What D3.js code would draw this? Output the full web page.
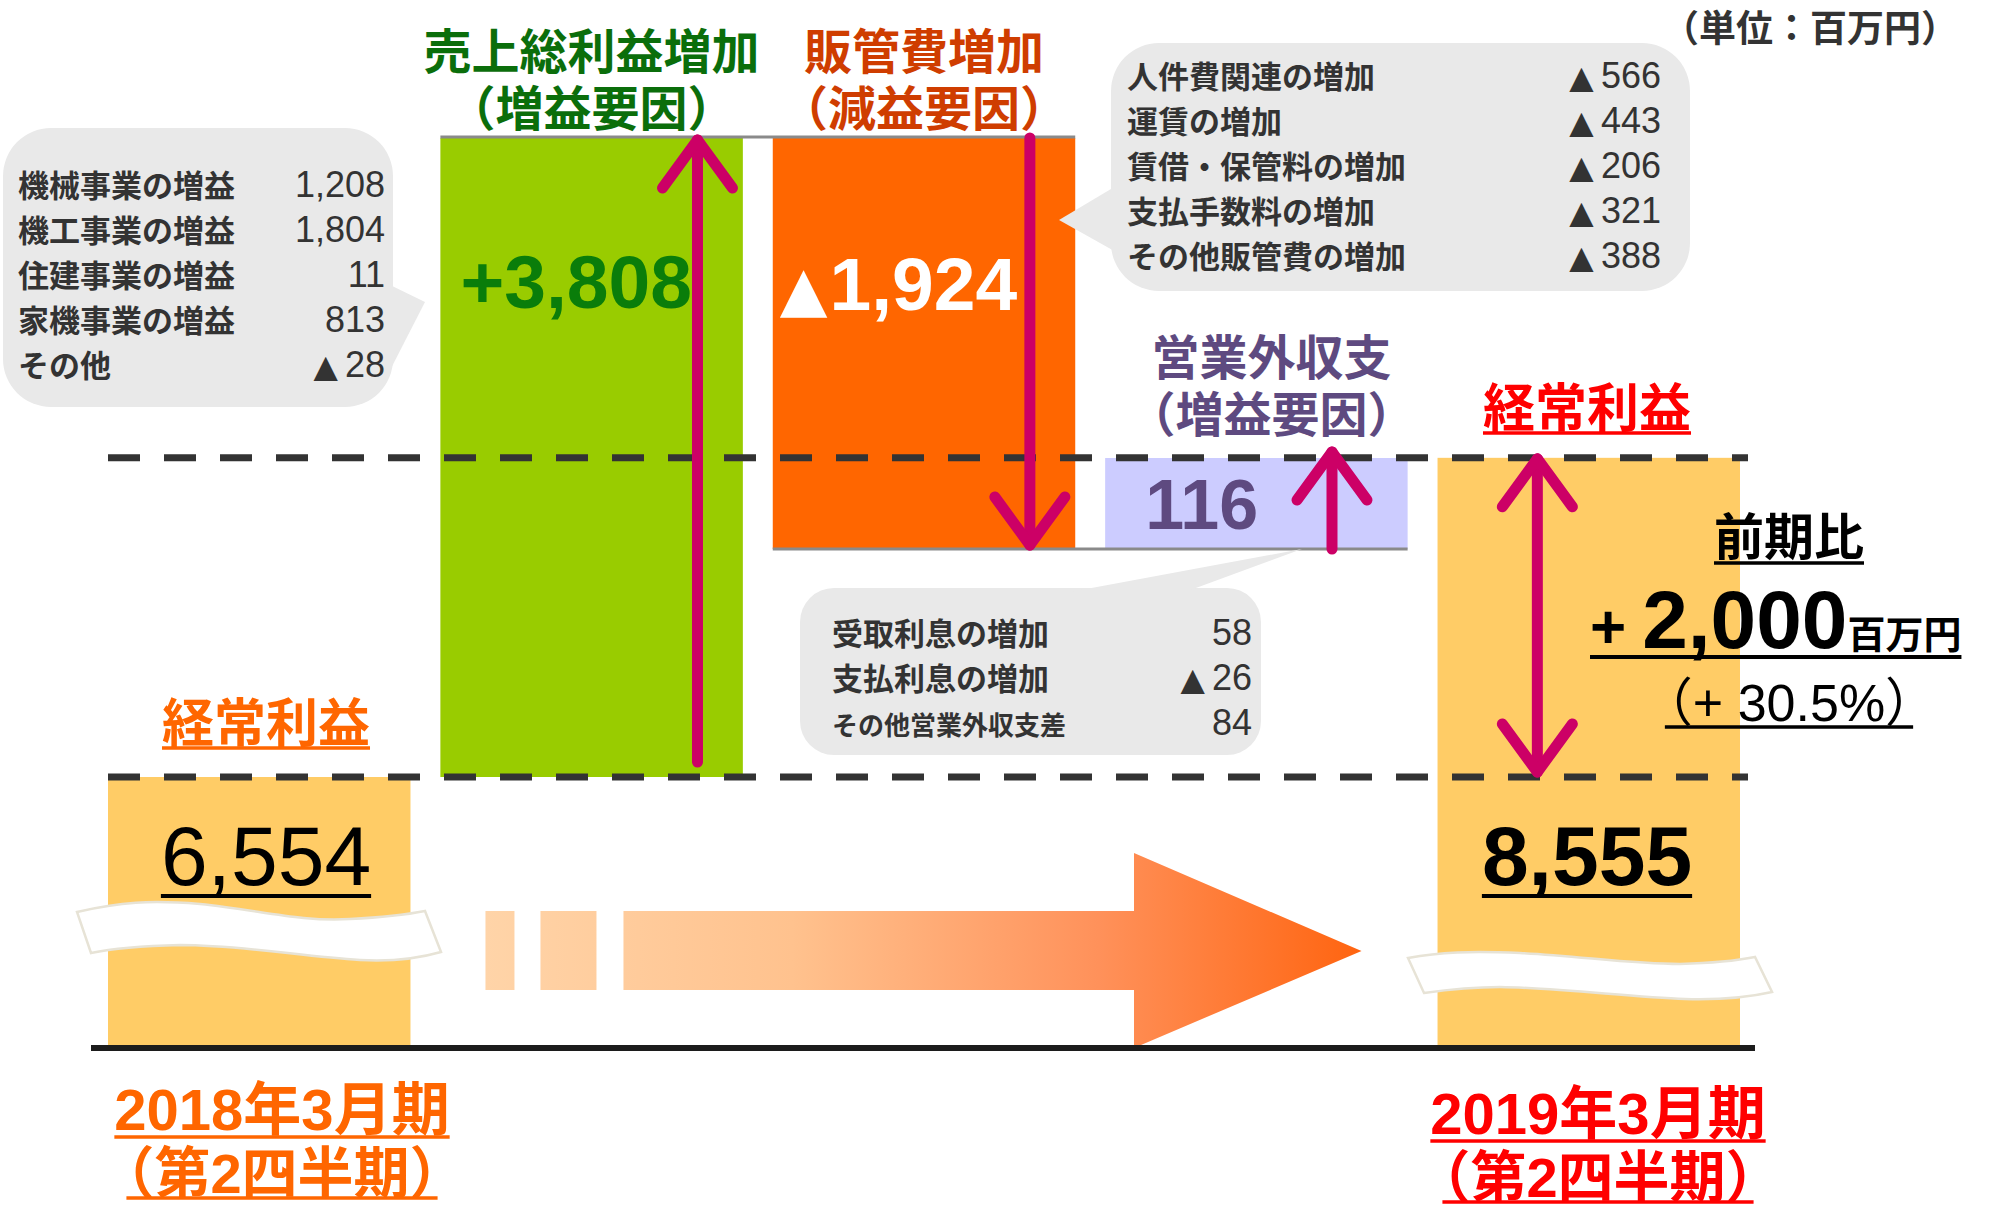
<!DOCTYPE html>
<html>
<head>
<meta charset="utf-8">
<script src="https://cdn.jsdelivr.net/npm/d3@7"></script>
<style>
  body { margin: 0; background: #fff; }
  svg { display: block; }
</style>
</head>
<body>
<svg id="chart"></svg>
<script>
// ---- data (百万円) ----
const steps = ["2018年3月期", "売上総利益増加", "販管費増加", "営業外収支", "2019年3月期"];
const startValue = 6554;
const endValue = 8555;
const stepValues = [3808, -1924, 116];
const stepSubtitles = ["（増益要因）", "（減益要因）", "（増益要因）"];

const grossLabels = ["機械事業の増益", "機工事業の増益", "住建事業の増益", "家機事業の増益", "その他"];
const grossValues = [1208, 1804, 11, 813, -28];

const sgaLabels = ["人件費関連の増加", "運賃の増加", "賃借・保管料の増加", "支払手数料の増加", "その他販管費の増加"];
const sgaValues = [-566, -443, -206, -321, -388];

const nonOpLabels = ["受取利息の増加", "支払利息の増加", "その他営業外収支差"];
const nonOpValues = [58, -26, 84];

const periodLabels = ["2018年3月期", "2019年3月期"];
const quarterLabel = "（第2四半期）";
const profitLabel = "経常利益";
const yoyValue = 2000;
const yoyPercent = 30.5;
const unitLabel = "（単位：百万円）";

// ---- setup ----
const width = 2011, height = 1208;
const FONT = "'Liberation Sans', 'Noto Sans CJK JP', sans-serif";
const MAGENTA = "#cc0066";

const svg = d3.select("#chart")
  .attr("width", width)
  .attr("height", height)
  .style("font-family", FONT);

// running levels of the waterfall
const levels = [startValue];
stepValues.forEach(v => levels.push(levels[levels.length - 1] + v));

// bands for the five columns
const x = d3.scaleBand()
  .domain(steps)
  .range([108, 1740])
  .paddingInner(0.09);
const bw = x.bandwidth();

// broken (non proportional) axis: piecewise scale through each level
const yDomain = d3.sort([0, ...levels]);
const y = d3.scaleLinear()
  .domain(yDomain)
  .range([1048, 777, 549, 458, 138]);

const fmt = d3.format(",");

// ---- bars ----
const barColors = ["#ffcc66", "#99cc00", "#ff6600", "#ccccff", "#ffcc66"];
const bars = [
  { name: steps[0], y0: 0, y1: startValue },
  ...stepValues.map((v, i) => ({ name: steps[i + 1], y0: levels[i], y1: levels[i + 1] })),
  { name: steps[4], y0: 0, y1: endValue }
];

svg.append("g").selectAll("rect")
  .data(bars)
  .join("rect")
  .attr("x", d => x(d.name))
  .attr("width", bw)
  .attr("y", d => y(Math.max(d.y0, d.y1)))
  .attr("height", d => Math.abs(y(d.y0) - y(d.y1)))
  .attr("fill", (d, i) => barColors[i]);

// thin grey connectors
svg.append("line")
  .attr("x1", x(steps[1])).attr("x2", x(steps[2]) + bw)
  .attr("y1", y(levels[1]) - 1).attr("y2", y(levels[1]) - 1)
  .attr("stroke", "#8a8a8a").attr("stroke-width", 3);
svg.append("line")
  .attr("x1", x(steps[2])).attr("x2", x(steps[3]) + bw)
  .attr("y1", y(levels[2])).attr("y2", y(levels[2]))
  .attr("stroke", "#8a8a8a").attr("stroke-width", 3);

// ---- break waves ----
const waves = [
  "M77,912 C120,902 150,900 200,904 C260,910 300,922 350,919 C390,917 410,914 425,911 L441,952 C420,958 395,962 360,960 C300,956 240,945 180,945 C140,946 110,949 91,953 Z",
  "M1408,958 C1440,952 1470,951 1520,953 C1580,956 1630,964 1680,964 C1715,963 1740,960 1755,957 L1772,992 C1750,997 1720,1000 1685,999 C1630,997 1560,988 1500,987 C1470,987 1445,990 1424,993 Z"
];
svg.append("g").selectAll("path")
  .data(waves)
  .join("path")
  .attr("d", d => d)
  .attr("fill", "#fff")
  .attr("stroke", "#e7e3d6")
  .attr("stroke-width", 2.5);

// ---- big progress arrow ----
const grad = svg.append("defs").append("linearGradient")
  .attr("id", "arrowGrad")
  .attr("gradientUnits", "userSpaceOnUse")
  .attr("x1", 485).attr("x2", 1362).attr("y1", 0).attr("y2", 0);
grad.append("stop").attr("offset", 0).attr("stop-color", "#ffd4a8");
grad.append("stop").attr("offset", 0.35).attr("stop-color", "#ffc28e");
grad.append("stop").attr("offset", 0.7).attr("stop-color", "#ff915a");
grad.append("stop").attr("offset", 1).attr("stop-color", "#ff6410");

const aL = x(steps[0]) + bw + 75;
const aR = x(steps[4]) - 76;
const arrowG = svg.append("g").attr("fill", "url(#arrowGrad)");
arrowG.append("rect").attr("x", aL).attr("y", 911).attr("width", 29).attr("height", 79);
arrowG.append("rect").attr("x", aL + 55).attr("y", 911).attr("width", 56).attr("height", 79);
arrowG.append("path")
  .attr("d", `M${aL + 138},911 L1134,911 L1134,853 L${aR},951 L1134,1048 L1134,990 L${aL + 138},990 Z`);

// ---- baseline ----
svg.append("line")
  .attr("x1", 91).attr("x2", 1755)
  .attr("y1", y(0)).attr("y2", y(0))
  .attr("stroke", "#1c1c1c").attr("stroke-width", 6);

// ---- dashed reference lines ----
[startValue, endValue].forEach(v => {
  svg.append("line")
    .attr("x1", 108).attr("x2", 1748)
    .attr("y1", y(v)).attr("y2", y(v))
    .attr("stroke", "#333").attr("stroke-width", 7)
    .attr("stroke-dasharray", "32,24");
});

// ---- magenta arrows ----
function chevron(g, cx, tipY, dir) {
  g.append("path")
    .attr("d", `M${cx - 35},${tipY + dir * 48} L${cx},${tipY} L${cx + 35},${tipY + dir * 48}`);
}
function arrow(cx, fromY, toY, both) {
  const g = svg.append("g")
    .attr("fill", "none").attr("stroke", MAGENTA)
    .attr("stroke-width", 11)
    .attr("stroke-linecap", "round").attr("stroke-linejoin", "round");
  g.append("line").attr("x1", cx).attr("x2", cx).attr("y1", fromY).attr("y2", toY);
  chevron(g, cx, toY, toY < fromY ? 1 : -1);
  if (both) chevron(g, cx, fromY, fromY < toY ? 1 : -1);
}
arrow(x(steps[1]) + bw * 0.85, y(levels[0]) - 15, y(levels[1]) + 2);
arrow(x(steps[2]) + bw * 0.85, y(levels[1]), y(levels[2]) - 4);
arrow(x(steps[3]) + bw * 0.75, y(levels[3]) + 91, y(levels[3]) - 6);
arrow(x(steps[4]) + bw * 0.33, y(endValue) + 1, y(startValue) - 5, true);

// ---- text helpers ----
function addText(g, str, px, py, opts) {
  return g.append("text")
    .attr("x", px).attr("y", py)
    .attr("text-anchor", opts.anchor || "start")
    .attr("font-size", opts.size)
    .attr("font-weight", opts.weight || "normal")
    .attr("fill", opts.color || "#333")
    .text(str);
}
function underline(t, color, offset, thick, inset) {
  const b = t.node().getBBox();
  const by = +t.attr("y") + offset;
  svg.append("line")
    .attr("x1", b.x + (inset || 0)).attr("x2", b.x + b.width - (inset || 0))
    .attr("y1", by).attr("y2", by)
    .attr("stroke", color).attr("stroke-width", thick);
}
function valueText(g, v, px, py, size, color, weight) {
  const t = g.append("text")
    .attr("x", px).attr("y", py)
    .attr("text-anchor", "end")
    .attr("font-size", size)
    .attr("font-weight", weight || "normal")
    .attr("fill", color || "#333");
  if (v < 0) {
    t.append("tspan").attr("font-size", size * 0.88).attr("font-family", "'DejaVu Sans'").text("▲");
    t.append("tspan").attr("dx", size * 0.2).text(fmt(-v));
  } else {
    t.text(fmt(v));
  }
  return t;
}

// ---- headers ----
const headerColors = ["#0b6e0b", "#cf3d00", "#5e4a80"];
const headerPos = [
  { cx: x(steps[1]) + bw / 2, y: 69 },
  { cx: x(steps[2]) + bw / 2, y: 69 },
  { cx: x(steps[3]) + bw / 2 + 15, y: 375 }
];
const tg = svg.append("g");
headerPos.forEach((p, i) => {
  addText(tg, steps[i + 1], p.cx, p.y, { anchor: "middle", size: 48, weight: "bold", color: headerColors[i] });
  addText(tg, stepSubtitles[i], p.cx, p.y + 57, { anchor: "middle", size: 48, weight: "bold", color: headerColors[i] });
});

addText(tg, unitLabel, 1958, 42, { anchor: "end", size: 37, weight: "bold", color: "#333" });

// ---- values inside the step bars ----
addText(tg, "+" + fmt(stepValues[0]), x(steps[1]) + 20, 308, { size: 75, weight: "bold", color: "#0a7d0a" });
{
  const t = tg.append("text")
    .attr("x", x(steps[2]) + 7).attr("y", 310)
    .attr("font-size", 75).attr("font-weight", "bold").attr("fill", "#fff");
  t.append("tspan").attr("font-family", "'DejaVu Sans'").attr("font-size", 62).text("▲");
  t.append("tspan").attr("dx", 2).text(fmt(-stepValues[1]));
}
addText(tg, fmt(stepValues[2]), x(steps[3]) + 40, 529, { size: 70, weight: "bold", color: "#5e4a80" });

// ---- profit labels and totals ----
const lp = addText(tg, profitLabel, 266, 742, { anchor: "middle", size: 52, weight: "bold", color: "#ff6600" });
underline(lp, "#ff6600", 6, 3.5);
const rp = addText(tg, profitLabel, 1587, 427, { anchor: "middle", size: 52, weight: "bold", color: "#ff0000" });
underline(rp, "#ff0000", 6, 3.5);

const sv = addText(tg, fmt(startValue), 266, 885, { anchor: "middle", size: 84, color: "#000" });
underline(sv, "#000", 11, 4);
const ev = addText(tg, fmt(endValue), 1587, 885, { anchor: "middle", size: 84, weight: "bold", color: "#000" });
underline(ev, "#000", 11, 4);

// ---- year over year ----
const yy1 = addText(tg, "前期比", 1789, 555, { anchor: "middle", size: 50, weight: "bold", color: "#000" });
underline(yy1, "#000", 8, 3.5);
{
  const t = tg.append("text")
    .attr("x", 1590).attr("y", 648)
    .attr("font-weight", "bold").attr("fill", "#000");
  t.append("tspan").attr("font-size", 62).text("+");
  t.append("tspan").attr("font-size", 82).attr("dx", 16).text(fmt(yoyValue));
  t.append("tspan").attr("font-size", 38).text("百万円");
  underline(t, "#000", 9, 4);
}
{
  const t = addText(tg, "（+ " + yoyPercent.toFixed(1) + "%）", 1789, 721, { anchor: "middle", size: 52, color: "#000" });
  underline(t, "#000", 6, 3.5, 24);
}

// ---- period labels ----
const periodPos = [{ cx: 282, y: 1130, c: "#ff6600" }, { cx: 1598, y: 1134, c: "#ff0000" }];
periodPos.forEach((p, i) => {
  const a = addText(tg, periodLabels[i], p.cx, p.y, { anchor: "middle", size: 58, weight: "bold", color: p.c });
  underline(a, p.c, 7, 3.5);
  const b = addText(tg, quarterLabel, p.cx, p.y + 63, { anchor: "middle", size: 56, weight: "bold", color: p.c });
  underline(b, p.c, 5, 3.5, 28);
});

// ---- callout bubbles ----
function bubble(box, tail, labels, values, layout) {
  const g = svg.append("g");
  g.append("rect")
    .attr("x", box.x).attr("y", box.y)
    .attr("width", box.w).attr("height", box.h)
    .attr("rx", box.r).attr("fill", "#e9e9e9");
  g.append("path")
    .attr("d", "M" + tail.map(p => p.join(",")).join("L") + "Z")
    .attr("fill", "#e9e9e9");
  labels.forEach((l, i) => {
    const by = layout.y0 + i * layout.dy;
    const size = layout.sizes ? layout.sizes[i] : 31;
    addText(g, l, layout.lx, by, { size: size, weight: "bold", color: "#333" });
    valueText(g, values[i], layout.vx, by, 36, "#333");
  });
}

bubble({ x: 3, y: 128, w: 390, h: 279, r: 48 },
  [[386, 283], [425, 302], [384, 382]],
  grossLabels, grossValues, { lx: 18, vx: 385, y0: 197, dy: 45 });

bubble({ x: 1111, y: 43, w: 579, h: 248, r: 48 },
  [[1116, 186], [1059, 220], [1116, 252]],
  sgaLabels, sgaValues, { lx: 1127, vx: 1661, y0: 88, dy: 45 });

bubble({ x: 800, y: 588, w: 461, h: 167, r: 34 },
  [[1070, 592], [1302, 549], [1185, 592]],
  nonOpLabels, nonOpValues, { lx: 832, vx: 1252, y0: 645, dy: 45, sizes: [31, 31, 26] });
</script>
</body>
</html>
